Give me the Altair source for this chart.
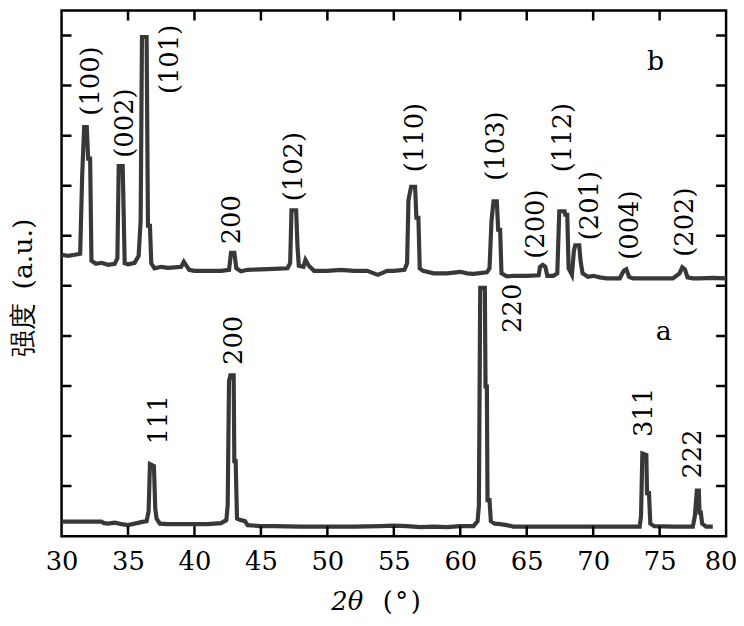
import altair as alt
import pandas as pd

# ---- curve a (lower pattern) ----
a_x = [30.0, 31.0, 32.0, 33.0, 33.2, 33.5, 34.0, 34.5, 35.0, 35.5, 36.0, 36.4, 36.55, 36.65, 36.95, 37.05, 37.15, 37.4,
       38.0, 39.0, 40.0, 41.0, 42.0, 42.4, 42.5, 42.6, 42.7, 42.95, 43.0, 43.1, 43.2, 43.5, 43.8, 44.0, 45.0, 46.0,
       48.0, 50.0, 52.0, 54.0, 55.0, 56.0, 57.0, 58.0, 59.0, 60.0, 61.0, 61.3, 61.4, 61.5, 61.85, 61.9, 62.0, 62.05,
       62.2, 62.3, 62.6, 63.0, 63.5, 64.0, 66.0, 70.0, 72.0, 73.5, 73.6, 73.7, 74.0, 74.05, 74.2, 74.3, 74.6, 76.0,
       77.5, 77.65, 77.8, 77.95, 78.0, 78.1, 78.2, 78.5, 79.0]
a_y = [0.29, 0.29, 0.29, 0.29, 0.26, 0.25, 0.27, 0.24, 0.22, 0.25, 0.28, 0.30, 0.50, 1.44, 1.40, 0.55, 0.35, 0.25,
       0.24, 0.24, 0.24, 0.24, 0.26, 0.32, 0.62, 3.10, 3.21, 3.21, 1.50, 1.50, 0.35, 0.32, 0.30, 0.22, 0.20, 0.20,
       0.19, 0.19, 0.19, 0.20, 0.21, 0.20, 0.18, 0.19, 0.18, 0.20, 0.20, 0.30, 0.60, 4.96, 4.96, 2.99, 2.99, 0.72,
       0.72, 0.30, 0.25, 0.24, 0.22, 0.19, 0.19, 0.19, 0.19, 0.19, 0.40, 1.65, 1.62, 0.86, 0.86, 0.25, 0.20, 0.19,
       0.19, 0.40, 0.91, 0.91, 0.47, 0.47, 0.25, 0.19, 0.19]

# ---- curve b (upper pattern) ----
b_x = [30.0, 30.5, 31.0, 31.4, 31.55, 31.7, 31.9, 32.0, 32.15, 32.25, 32.6, 33.0, 33.5, 34.0, 34.2, 34.3, 34.6, 34.75,
       35.0, 35.5, 35.8, 35.95, 36.05, 36.4, 36.5, 36.65, 36.75, 37.0, 37.5, 38.0, 38.5, 39.0, 39.2, 39.4, 39.6, 40.0,
       41.0, 42.0, 42.6, 42.75, 43.0, 43.15, 43.5, 44.0, 45.0, 46.0, 47.0, 47.2, 47.3, 47.65, 47.75, 47.85, 48.2,
       48.35, 48.6, 49.0, 50.0, 51.0, 52.0, 53.0, 53.8, 54.5, 55.0, 55.8, 56.0, 56.1, 56.3, 56.6, 56.7, 56.85, 56.95,
       57.2, 58.0, 59.0, 60.0, 60.5, 61.0, 62.0, 62.2, 62.35, 62.5, 62.75, 62.85, 63.0, 63.1, 63.5, 64.0, 65.0,
       65.9, 66.0, 66.2, 66.4, 66.55, 67.0, 67.3, 67.45, 67.85, 67.9, 68.05, 68.15, 68.4, 68.55, 68.65, 68.95, 69.05,
       69.2, 69.6, 70.0, 70.5, 71.0, 72.0, 72.3, 72.5, 72.7, 73.0, 74.0, 75.0, 76.0, 76.5, 76.7, 76.9, 77.1, 77.5,
       78.0, 79.0, 80.0]
b_y = [5.62, 5.60, 5.62, 5.64, 7.19, 8.17, 8.17, 7.54, 7.54, 5.50, 5.44, 5.46, 5.42, 5.44, 5.55, 7.39, 7.39, 5.45,
       5.43, 5.46, 5.60, 6.30, 9.97, 9.97, 6.20, 6.20, 5.45, 5.35, 5.38, 5.36, 5.37, 5.38, 5.48, 5.40, 5.32, 5.30,
       5.30, 5.30, 5.32, 5.66, 5.66, 5.35, 5.29, 5.32, 5.33, 5.34, 5.35, 5.45, 6.51, 6.51, 5.80, 5.40, 5.38,
       5.52, 5.40, 5.30, 5.30, 5.32, 5.30, 5.30, 5.22, 5.30, 5.30, 5.32, 5.45, 6.71, 6.98, 6.98, 6.36, 6.36, 5.35,
       5.30, 5.25, 5.25, 5.28, 5.25, 5.24, 5.27, 5.35, 6.30, 6.69, 6.69, 6.12, 6.12, 5.25, 5.19, 5.20, 5.20,
       5.21, 5.38, 5.42, 5.38, 5.20, 5.20, 5.25, 6.49, 6.49, 6.42, 6.42, 5.35, 5.22, 5.70, 5.81, 5.81, 5.50,
       5.25, 5.18, 5.20, 5.17, 5.15, 5.15, 5.30, 5.33, 5.18, 5.15, 5.15, 5.15, 5.15, 5.25, 5.37, 5.33, 5.17, 5.15,
       5.15, 5.16, 5.15]

# ---- peak labels ----
lab_text = ["(100)", "(002)", "(101)", "200", "(102)", "(110)", "(103)", "(200)", "(112)",
            "(201)", "(004)", "(202)",
            "111", "200", "220", "311", "222"]
lab_x = [32.2, 34.8, 38.2, 42.85, 47.5, 56.6, 62.7, 65.7, 67.75, 69.8, 72.8, 76.9,
         37.36, 43.0, 63.95, 73.8, 77.5]
lab_y = [8.40, 7.56, 8.83, 5.83, 6.69, 7.27, 7.10, 5.54, 7.27, 5.91, 5.52, 5.58,
         1.83, 3.42, 4.06, 1.98, 1.15]

# ---- curve names ----
name_text = ["a", "b"]
name_x = [75.3, 74.7]
name_y = [4.08, 9.47]

# ---- axis ticks ----
x_ticks = [35, 40, 45, 50, 55, 60, 65, 70, 75]
x_labels = [30, 35, 40, 45, 50, 55, 60, 65, 70, 75, 80]
y_ticks = [1, 2, 3, 4, 5, 6, 7, 8, 9, 10]

XMIN, XMAX = 30, 80
YMIN, YMAX = 0, 10.5
W, H = 670, 530
LINE_COLOR = "#383838"
SERIF = "DejaVu Serif"

xs = alt.Scale(domain=[XMIN, XMAX], nice=False, zero=False)
ys = alt.Scale(domain=[YMIN, YMAX], nice=False, zero=False)

curves = pd.concat([
    pd.DataFrame({"x": a_x, "y": a_y, "s": "a"}),
    pd.DataFrame({"x": b_x, "y": b_y, "s": "b"}),
])

lines = alt.Chart(curves).mark_line(color=LINE_COLOR, strokeWidth=4.2, strokeJoin="miter").encode(
    x=alt.X("x:Q", scale=xs,
            axis=alt.Axis(title=None, values=x_labels, format="d", ticks=False, domain=False, grid=False,
                          labelFont=SERIF, labelFontSize=26, labelColor="black", labelPadding=13,
                          labelFlush=False,
                          labelAlign={"condition": {"test": "datum.value == 80", "value": "right"}, "value": "center"},
                          labelOffset={"condition": {"test": "datum.value == 80", "value": 11}, "value": 0})),
    y=alt.Y("y:Q", scale=ys,
            axis=alt.Axis(title="强度\u2002(a.u.)", labels=False, ticks=False, domain=False, grid=False,
                          titleFont=SERIF, titleFontSize=27, titleFontWeight="normal", titleColor="black",
                          titleAngle=270, titleAlign="center", titleBaseline="middle",
                          titleX=-38, titleY=279)),
    detail="s:N",
)

labels_df = pd.DataFrame({"t": lab_text, "x": lab_x, "y": lab_y})
labels = alt.Chart(labels_df).mark_text(angle=270, align="left", baseline="middle", font=SERIF,
                                        fontSize=26, color="black").encode(
    x=alt.X("x:Q", scale=xs), y=alt.Y("y:Q", scale=ys), text="t:N")

names_df = pd.DataFrame({"t": name_text, "x": name_x, "y": name_y})
names = alt.Chart(names_df).mark_text(align="center", baseline="middle", font=SERIF, fontSize=27,
                                      color="black").encode(
    x=alt.X("x:Q", scale=xs), y=alt.Y("y:Q", scale=ys), text="t:N")

xt_df = pd.DataFrame({"v": x_ticks})
yt_df = pd.DataFrame({"v": y_ticks})
tick_style = dict(size=20, thickness=2.5, color="black", clip=True, opacity=1)
bottom_ticks = alt.Chart(xt_df).mark_tick(orient="vertical", **tick_style).encode(
    x=alt.X("v:Q", scale=xs), y=alt.datum(YMIN))
top_ticks = alt.Chart(xt_df).mark_tick(orient="vertical", **tick_style).encode(
    x=alt.X("v:Q", scale=xs), y=alt.datum(YMAX))
left_ticks = alt.Chart(yt_df).mark_tick(orient="horizontal", **tick_style).encode(
    y=alt.Y("v:Q", scale=ys), x=alt.datum(XMIN))
right_ticks = alt.Chart(yt_df).mark_tick(orient="horizontal", **tick_style).encode(
    y=alt.Y("v:Q", scale=ys), x=alt.datum(XMAX))

xtitle_a = alt.Chart(pd.DataFrame({"t": ["2θ"]})).mark_text(
    align="center", baseline="alphabetic", font=SERIF, fontSize=26, fontStyle="italic", color="black").encode(
    text="t:N", x=alt.value(288), y=alt.value(604))
xtitle_b = alt.Chart(pd.DataFrame({"t": ["(\u200a°\u200a)"]})).mark_text(
    align="center", baseline="alphabetic", font=SERIF, fontSize=26, color="black").encode(
    text="t:N", x=alt.value(343), y=alt.value(604))

chart = alt.layer(
    lines, bottom_ticks, top_ticks, left_ticks, right_ticks, labels, names, xtitle_a, xtitle_b
).properties(
    width=W, height=H,
    autosize=alt.AutoSizeParams(type="none"),
    padding={"left": 54, "top": 0, "right": 10, "bottom": 80},
    background="white",
).configure_view(stroke="black", strokeWidth=2.5)

chart.save("out.html", embed_options={"renderer": "svg", "actions": False})
